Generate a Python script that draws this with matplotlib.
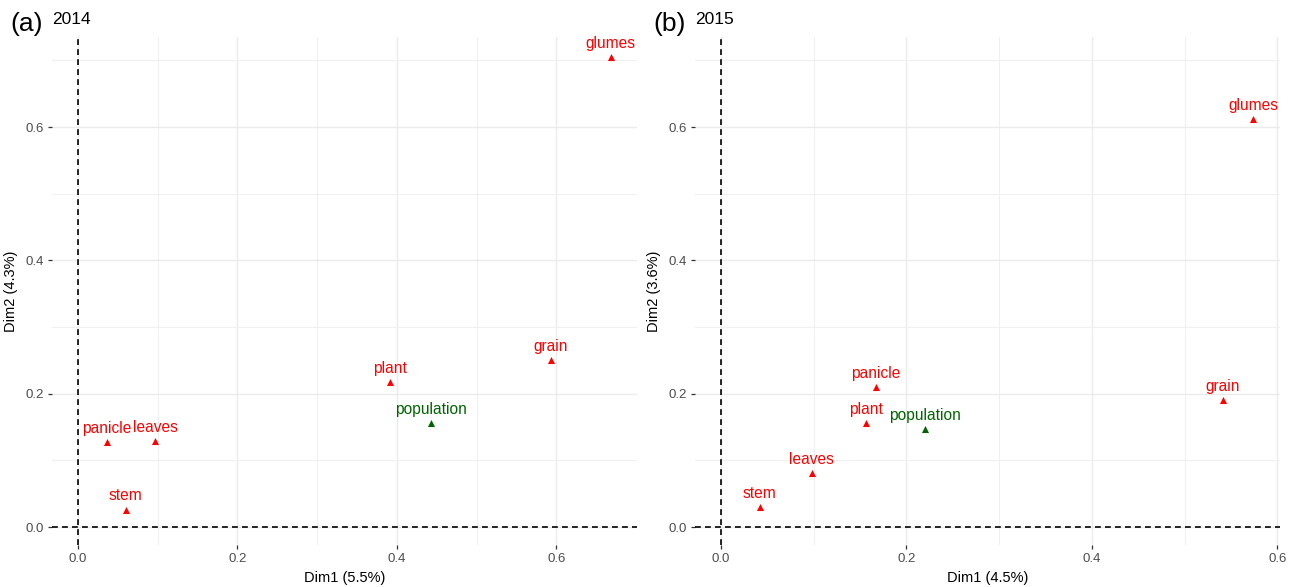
import matplotlib
matplotlib.use("Agg")
import matplotlib.pyplot as plt
import numpy as np

plt.rcParams['font.family'] = ['Liberation Sans', 'DejaVu Sans']

labels_2014 = ["glumes", "grain", "plant", "population", "panicle", "leaves", "stem"]
dim1_2014 = [0.668, 0.593, 0.391, 0.443, 0.036, 0.097, 0.060]
dim2_2014 = [0.705, 0.250, 0.217, 0.156, 0.127, 0.129, 0.026]

labels_2015 = ["glumes", "grain", "panicle", "plant", "population", "leaves", "stem"]
dim1_2015 = [0.574, 0.541, 0.167, 0.156, 0.220, 0.098, 0.042]
dim2_2015 = [0.612, 0.190, 0.210, 0.156, 0.147, 0.081, 0.030]

supp_label = "population"
xlabels = ["Dim1 (5.5%)", "Dim1 (4.5%)"]
ylabels = ["Dim2 (4.3%)", "Dim2 (3.6%)"]
titles = ["2014", "2015"]
tags = ["(a)", "(b)"]
xticks = [0.0, 0.2, 0.4, 0.6]
yticks = [0.0, 0.2, 0.4, 0.6]

W, H = 1297, 587
fig = plt.figure(figsize=(W / 100, H / 100), dpi=100)

panels = [
    dict(labels=labels_2014, x=dim1_2014, y=dim2_2014, xlim=(-0.0326, 0.701), ylim=(-0.027, 0.735),
         rect=(52, 37, 637, 545)),
    dict(labels=labels_2015, x=dim1_2015, y=dim2_2015, xlim=(-0.028, 0.603), ylim=(-0.027, 0.735),
         rect=(695, 37, 1280, 545)),
]

for i, p in enumerate(panels):
    l, t, r, b = p["rect"]
    ax = fig.add_axes([l / W, 1 - b / H, (r - l) / W, (b - t) / H])
    ax.set_xlim(*p["xlim"])
    ax.set_ylim(*p["ylim"])
    ax.set_xticks(xticks)
    ax.set_yticks(yticks)
    ax.set_xticks([0.1, 0.3, 0.5], minor=True)
    ax.set_yticks([0.1, 0.3, 0.5, 0.7], minor=True)
    ax.grid(True, which="major", color="#EBEBEB", linewidth=1.0)
    ax.grid(True, which="minor", color="#F0F0F0", linewidth=0.8)
    ax.set_axisbelow(True)
    for s in ax.spines.values():
        s.set_visible(False)
    ax.tick_params(which="major", length=3, width=0.9, color="#333333", labelsize=9.5,
                   labelcolor="#4D4D4D", pad=3)
    ax.tick_params(which="minor", length=0)
    ax.axhline(0, color="black", linestyle=(0, (3.5, 2.5)), linewidth=1.2, zorder=2)
    ax.axvline(0, color="black", linestyle=(0, (3.5, 2.5)), linewidth=1.2, zorder=2)
    for lab, xv, yv in zip(p["labels"], p["x"], p["y"]):
        c = "#006400" if lab == supp_label else "#FF0000"
        ax.scatter([xv], [yv], marker="^", s=26, color=c, zorder=3, linewidths=0)
        ax.annotate(lab, (xv, yv), xytext=(0, 4.5), textcoords="offset points",
                    ha="center", va="bottom", color=c, fontsize=11.2, zorder=4)
    ax.set_xlabel(xlabels[i], fontsize=10.5, color="black", labelpad=4)
    ax.set_ylabel(ylabels[i], fontsize=10.5, color="black", labelpad=5)
    fig.text(l / W, 1 - 19 / H, titles[i], fontsize=12.5, ha="left", va="center")
    fig.text((l - 42) / W, 1 - 24 / H, tags[i], fontsize=19, ha="left", va="center")

fig.savefig("out.png", dpi=100, facecolor="white")
